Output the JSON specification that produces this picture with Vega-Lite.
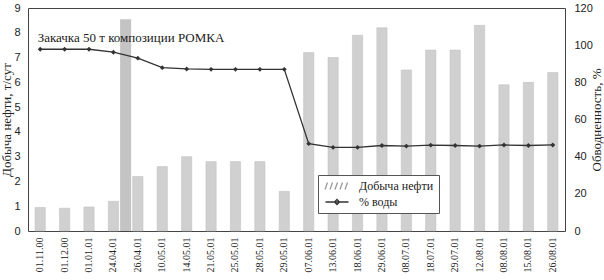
{
  "$schema": "https://vega.github.io/schema/vega-lite/v6.json",
  "width": 537,
  "height": 223,
  "autosize": {"type": "none"},
  "padding": {"left": 28, "top": 8, "right": 39, "bottom": 49},
  "background": "white",
  "datasets": {
    "main": [
      {"date": "01.11.00", "oil": 0.95, "water": 97.8},
      {"date": "01.12.00", "oil": 0.92, "water": 97.8},
      {"date": "01.01.01", "oil": 0.97, "water": 97.8},
      {"date": "24.04.01", "oil": 1.2, "water": 96.2},
      {"date": "26.04.01", "oil": 2.2, "water": 93.0},
      {"date": "10.05.01", "oil": 2.6, "water": 87.9},
      {"date": "14.05.01", "oil": 3.0, "water": 87.2},
      {"date": "21.05.01", "oil": 2.8, "water": 87.0},
      {"date": "25.05.01", "oil": 2.8, "water": 87.0},
      {"date": "28.05.01", "oil": 2.8, "water": 87.0},
      {"date": "29.05.01", "oil": 1.6, "water": 87.0},
      {"date": "07.06.01", "oil": 7.2, "water": 47.0},
      {"date": "13.06.01", "oil": 7.0, "water": 45.0},
      {"date": "18.06.01", "oil": 7.9, "water": 45.0},
      {"date": "29.06.01", "oil": 8.2, "water": 46.0},
      {"date": "08.07.01", "oil": 6.5, "water": 45.7},
      {"date": "18.07.01", "oil": 7.3, "water": 46.2},
      {"date": "29.07.01", "oil": 7.3, "water": 46.0},
      {"date": "12.08.01", "oil": 8.3, "water": 45.7},
      {"date": "08.08.01", "oil": 5.9, "water": 46.3},
      {"date": "15.08.01", "oil": 6.0, "water": 46.0},
      {"date": "26.08.01", "oil": 6.4, "water": 46.3}
    ],
    "event": [
      {"date": "26.04.01", "value": 8.55, "event": "Закачка 50 т композиции РОМКА"}
    ]
  },
  "config": {
    "view": {"stroke": "#444", "strokeWidth": 1},
    "axis": {"domain": false, "ticks": false, "grid": false, "labelColor": "#222", "titleColor": "#222"},
    "axisX": {"labelFont": "Liberation Serif", "labelFontSize": 10, "labelAngle": 270, "labelAlign": "right", "labelBaseline": "middle", "labelPadding": 6, "labelOverlap": false},
    "axisY": {"labelFont": "Liberation Sans", "labelFontSize": 11, "labelPadding": 8, "labelOverlap": false, "labelBound": false, "labelFlush": false, "titleFont": "Liberation Serif", "titleFontSize": 13, "titleFontWeight": "normal", "titlePadding": 0}
  },
  "resolve": {"scale": {"y": "independent"}},
  "layer": [
    {
      "layer": [
        {
          "data": {"name": "event"},
          "mark": {"type": "rule", "strokeWidth": 11, "color": "#c4c4c4", "strokeCap": "butt"},
          "encoding": {
            "x": {"field": "date", "type": "nominal", "bandPosition": 0, "title": null},
            "y": {
              "field": "value", "type": "quantitative", "title": "Добыча нефти, т/сут",
              "scale": {"domain": [0, 9], "nice": false},
              "axis": {"orient": "left", "values": [0,1,2,3,4,5,6,7,8,9], "tickCount": 10, "zindex": 1, "labelOverlap": false, "labelFlush": false, "title": "Добыча нефти, т/сут"}
            },
            "y2": {"datum": 0}
          }
        },
        {
          "data": {"name": "main"},
          "mark": {"type": "bar", "fill": "#d0d0d0", "stroke": "#bdbdbd", "strokeWidth": 0.5, "width": {"band": 0.42}},
          "encoding": {
            "x": {
              "field": "date", "type": "nominal", "title": null,
              "scale": {"paddingInner": 0, "paddingOuter": 0, "domain": ["01.11.00","01.12.00","01.01.01","24.04.01","26.04.01","10.05.01","14.05.01","21.05.01","25.05.01","28.05.01","29.05.01","07.06.01","13.06.01","18.06.01","29.06.01","08.07.01","18.07.01","29.07.01","12.08.01","08.08.01","15.08.01","26.08.01"]},
              "axis": {"title": null}
            },
            "y": {
              "field": "oil", "type": "quantitative", "title": "Добыча нефти, т/сут",
              "scale": {"domain": [0, 9], "nice": false},
              "axis": {"orient": "left", "values": [0,1,2,3,4,5,6,7,8,9], "tickCount": 10, "zindex": 1, "labelOverlap": false, "labelFlush": false, "title": "Добыча нефти, т/сут"}
            }
          }
        },
        {
          "data": {"name": "event"},
          "mark": {"type": "text", "align": "left", "baseline": "middle", "dx": -88, "dy": 19, "font": "Liberation Serif", "fontSize": 13, "color": "#222"},
          "encoding": {
            "x": {"field": "date", "type": "nominal", "bandPosition": 0, "title": null},
            "y": {
              "field": "value", "type": "quantitative", "title": "Добыча нефти, т/сут",
              "scale": {"domain": [0, 9], "nice": false},
              "axis": {"orient": "left", "values": [0,1,2,3,4,5,6,7,8,9], "tickCount": 10, "zindex": 1, "labelOverlap": false, "labelFlush": false, "title": "Добыча нефти, т/сут"}
            },
            "text": {"field": "event"}
          }
        }
      ]
    },
    {
      "layer": [
        {
          "data": {"name": "main"},
          "mark": {"type": "line", "color": "#333", "strokeWidth": 1.3},
          "encoding": {
            "x": {"field": "date", "type": "nominal", "title": null},
            "y": {
              "field": "water", "type": "quantitative", "title": "Обводненность, %",
              "scale": {"domain": [0, 120], "nice": false},
              "axis": {"orient": "right", "values": [0,20,40,60,80,100,120], "labelPadding": 9, "title": "Обводненность, %", "titleAngle": 270, "titleBaseline": "top", "titlePadding": -2}
            }
          }
        },
        {
          "data": {"name": "main"},
          "mark": {"type": "point", "shape": "diamond", "filled": true, "size": 24, "color": "#333", "opacity": 1},
          "encoding": {
            "x": {"field": "date", "type": "nominal", "title": null},
            "y": {
              "field": "water", "type": "quantitative", "title": "Обводненность, %",
              "scale": {"domain": [0, 120], "nice": false},
              "axis": {"orient": "right", "values": [0,20,40,60,80,100,120], "labelPadding": 9, "title": "Обводненность, %", "titleAngle": 270, "titleBaseline": "top", "titlePadding": -2}
            }
          }
        },
        {
          "data": {"name": "main"},
          "mark": {"type": "point", "filled": false, "opacity": 0},
          "encoding": {
            "x": {"field": "date", "type": "nominal", "title": null},
            "y": {
              "field": "water", "type": "quantitative", "title": "Обводненность, %",
              "scale": {"domain": [0, 120], "nice": false},
              "axis": {"orient": "right", "values": [0,20,40,60,80,100,120], "labelPadding": 9, "title": "Обводненность, %", "titleAngle": 270, "titleBaseline": "top", "titlePadding": -2}
            },
            "color": {
              "datum": "% воды",
              "scale": {"domain": ["Добыча нефти", "% воды"], "range": ["#9a9a9a", "#333333"]},
              "legend": {"title": null, "orient": "none", "legendX": 290, "legendY": 167, "symbolOpacity": 1, "symbolSize": 100, "symbolStrokeWidth": 1.3, "labelFont": "Liberation Serif", "labelFontSize": 12, "labelColor": "#222", "strokeColor": "#555", "fillColor": "white", "padding": 5, "symbolOffset": 8, "labelOffset": 16, "rowPadding": 3}
            },
            "shape": {
              "datum": "% воды",
              "scale": {"domain": ["Добыча нефти", "% воды"], "range": ["M-2.4,0.7L-1.9,-0.7M-1.4,0.7L-0.9,-0.7M-0.4,0.7L0.1,-0.7M0.6,0.7L1.1,-0.7M1.6,0.7L2.1,-0.7", "M-2.3,0H2.3M0,-0.5L0.5,0L0,0.5L-0.5,0Z"]},
              "legend": {"title": null, "orient": "none", "legendX": 290, "legendY": 167, "symbolOpacity": 1, "symbolSize": 100, "symbolStrokeWidth": 1.3, "labelFont": "Liberation Serif", "labelFontSize": 12, "labelColor": "#222", "strokeColor": "#555", "fillColor": "white", "padding": 5, "symbolOffset": 8, "labelOffset": 16, "rowPadding": 3}
            }
          }
        }
      ]
    }
  ]
}
